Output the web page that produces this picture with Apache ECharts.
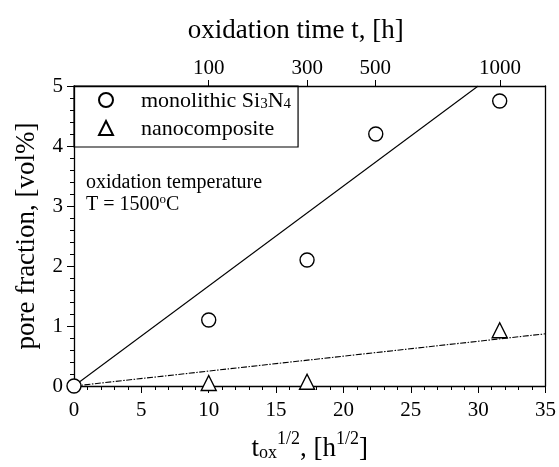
<!DOCTYPE html>
<html><head><meta charset="utf-8">
<script src="https://cdn.jsdelivr.net/npm/echarts@6/dist/echarts.min.js"></script>
<style>html,body{margin:0;padding:0;background:#fff}#c{width:559px;height:467px}</style>
</head><body><div id="c"></div>
<script>
// ---- data ----
const monoX = [0, 10, 17.3, 22.4, 31.6];
const monoY = [0, 1.1, 2.1, 4.2, 4.75];
const nanoX = [10, 17.3, 31.6];
const nanoY = [0.05, 0.07, 0.93];
const monoFitX = [0, 30];
const monoFitY = [0, 5];
const nanoFitX = [0, 35];
const nanoFitY = [0, 0.87];
const topHours = [100, 300, 500, 1000];
const topLabels = ['100', '300', '500', '1000'];
const seriesNames = ['monolithic Si3N4', 'nanocomposite'];

const FONT = 'Liberation Serif';
const zip = (xs, ys) => xs.map((x, i) => [x, ys[i]]);
const topVals = topHours.map(h => Math.sqrt(h));

const chart = echarts.init(document.getElementById('c'), null, {renderer: 'canvas'});
const lineStyle = {color: '#000', width: 1.3};
const labelStyle = {color: '#000', fontFamily: FONT, fontSize: 21};
chart.setOption({
  animation: false,
  textStyle: {fontFamily: FONT, color: '#000'},
  grid: {left: 74, right: 13, top: 86, bottom: 71, show: false},
  xAxis: [{
    type: 'value', position: 'bottom', min: 0, max: 35, interval: 5,
    axisLine: {show: true, onZero: false, lineStyle},
    splitLine: {show: false},
    axisTick: {show: true, inside: false, length: 7, lineStyle: {color: '#000'}},
    minorTick: {show: true, splitNumber: 5, length: 4, lineStyle: {color: '#000'}},
    minorSplitLine: {show: false},
    axisLabel: {...labelStyle, margin: 14},
    name: '{a|t}{sub|ox}{sup|1/2}{a|, [h}{sup|1/2}{a|]}',
    nameLocation: 'middle', nameGap: 44,
    nameTextStyle: {rich: {
      a: {fontFamily: FONT, fontSize: 27, color: '#000', lineHeight: 32, verticalAlign: 'bottom'},
      sub: {fontFamily: FONT, fontSize: 18, color: '#000', lineHeight: 16, verticalAlign: 'bottom'},
      sup: {fontFamily: FONT, fontSize: 18, color: '#000', lineHeight: 18, verticalAlign: 'top'}
    }}
  }, {
    type: 'value', position: 'top', min: 0, max: 35,
    axisLine: {show: true, onZero: false, lineStyle: {color: '#000', width: 1.3}},
    splitLine: {show: false},
    axisTick: {show: true, inside: false, length: 6, customValues: topVals, lineStyle: {color: '#000'}},
    axisLabel: {...labelStyle, margin: 7, customValues: topVals,
      formatter: v => { const i = topVals.findIndex(t => Math.abs(t - v) < 1e-6); return i >= 0 ? topLabels[i] : ''; }},
    name: 'oxidation time t, [h]', nameLocation: 'middle', nameGap: 42,
    nameTextStyle: {color: '#000', fontFamily: FONT, fontSize: 27, padding: [0, 28, 0, 0]}
  }],
  yAxis: [{
    type: 'value', position: 'left', min: 0, max: 5, interval: 1,
    axisLine: {show: true, onZero: false, lineStyle},
    splitLine: {show: false},
    axisTick: {show: true, inside: false, length: 7, lineStyle: {color: '#000'}},
    minorTick: {show: true, splitNumber: 5, length: 4, lineStyle: {color: '#000'}},
    axisLabel: {...labelStyle, margin: 11},
    name: 'pore fraction, [vol%]', nameLocation: 'middle', nameGap: 34, nameRotate: 90,
    nameTextStyle: {color: '#000', fontFamily: FONT, fontSize: 27}
  }, {
    type: 'value', position: 'right', min: 0, max: 5,
    axisLine: {show: true, onZero: false, lineStyle},
    axisTick: {show: false}, axisLabel: {show: false}, splitLine: {show: false}
  }],
  legend: {
    left: 74, top: 86, orient: 'vertical',
    data: seriesNames,
    borderColor: '#000', borderWidth: 1.2, borderRadius: 0,
    padding: [4, 7, 7, 24], itemGap: 6,
    itemWidth: 14, itemHeight: 14,
    formatter: n => n === seriesNames[0] ? '{a|monolithic Si}{sub|3}{a|N}{sub|4}' : '{a|' + n + '}',
    textStyle: {fontFamily: FONT, fontSize: 22, color: '#000', padding: [0, 0, 0, 23],
      rich: {
        a: {fontFamily: FONT, fontSize: 22, color: '#000', lineHeight: 24, verticalAlign: 'bottom'},
        sub: {fontFamily: FONT, fontSize: 15, color: '#000', lineHeight: 13, verticalAlign: 'bottom'}
      }}
  },
  graphic: [{
    type: 'text', left: 86, top: 173,
    style: {
      text: '{a|oxidation temperature}\n{a|T = 1500}{sup|o}{a|C}',
      fontFamily: FONT, fill: '#000',
      rich: {
        a: {fontFamily: FONT, fontSize: 20, fill: '#000', lineHeight: 22, verticalAlign: 'bottom'},
        sup: {fontFamily: FONT, fontSize: 13, fill: '#000', lineHeight: 13, verticalAlign: 'top'}
      }
    }
  }],
  series: [{
    name: 'fitMono', type: 'line', data: zip(monoFitX, monoFitY), showSymbol: false, symbol: 'none',
    lineStyle: {color: '#000', width: 1.1}, z: 1, silent: true
  }, {
    name: 'fitNano', type: 'line', data: zip(nanoFitX, nanoFitY), showSymbol: false, symbol: 'none',
    lineStyle: {color: '#000', width: 1.1, type: [6, 1.5, 1.5, 1.5]}, z: 1, silent: true
  }, {
    name: seriesNames[0], type: 'scatter', data: zip(monoX, monoY), symbol: 'circle', symbolSize: 14,
    itemStyle: {color: '#fff', borderColor: '#000', borderWidth: 1.4, opacity: 1}, z: 5, clip: false
  }, {
    name: seriesNames[1], type: 'scatter', data: zip(nanoX, nanoY), symbol: 'triangle', symbolSize: 15,
    itemStyle: {color: '#fff', borderColor: '#000', borderWidth: 1.4, opacity: 1}, z: 5, clip: false
  }]
});
</script></body></html>
